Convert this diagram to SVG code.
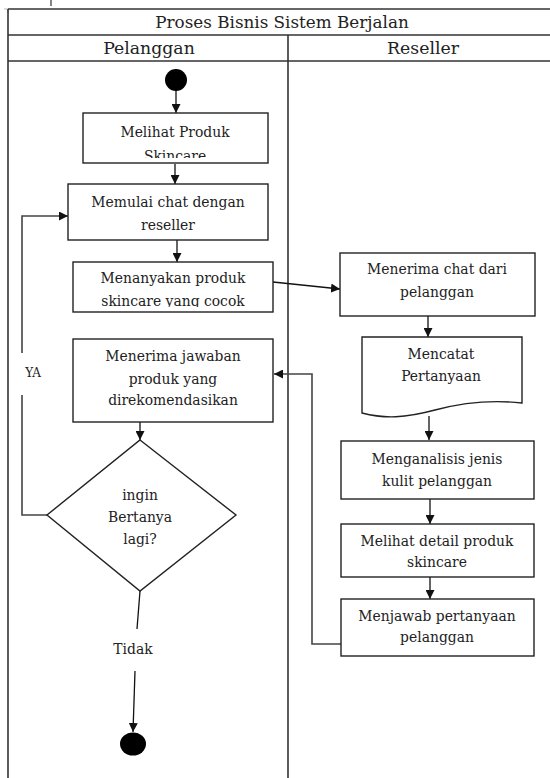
<svg xmlns="http://www.w3.org/2000/svg" width="550" height="778" viewBox="0 0 550 778">
<style>
text{font-family:"DejaVu Serif","Liberation Serif",serif;fill:#222;text-anchor:middle}
.t{font-size:13.9px}
.h{font-size:16.8px}
.hh{font-size:17.3px}
.box{fill:#fff;stroke:#222;stroke-width:1.4}
.grid{stroke:#333;stroke-width:1.6;fill:none}
.ln{stroke:#111;stroke-width:1.3;fill:none}
.fb{stroke:#444;stroke-width:1.6;fill:none}
</style>
<defs>
<marker id="ah" viewBox="0 0 10 10" refX="10" refY="5" markerWidth="9" markerHeight="9" markerUnits="userSpaceOnUse" orient="auto">
<path d="M0,0 L10,5 L0,10 Z" fill="#111"/>
</marker>
<clipPath id="c1"><rect x="83" y="113" width="185" height="45"/></clipPath>
<clipPath id="c3"><rect x="73" y="262" width="200" height="45"/></clipPath>
</defs>
<rect width="550" height="778" fill="#fff"/>
<g id="table">
<line class="grid" x1="51" y1="0" x2="51" y2="6" style="stroke-width:1.2"/>
<path d="M4,9 H8 V13" stroke="#bbb" stroke-width="1" fill="none"/>
<line class="grid" x1="8" y1="9" x2="550" y2="9"/>
<line class="grid" x1="8" y1="35" x2="550" y2="35"/>
<line class="grid" x1="8" y1="61" x2="550" y2="61"/>
<line class="grid" x1="8" y1="9" x2="8" y2="778"/>
<line class="grid" x1="288" y1="35" x2="288" y2="778"/>
<text class="h" x="282" y="28">Proses Bisnis Sistem Berjalan</text>
<text class="hh" x="149" y="54">Pelanggan</text>
<text class="hh" x="423" y="54">Reseller</text>
</g>
<g id="connectors">
<line class="ln" x1="176" y1="90" x2="176" y2="113" marker-end="url(#ah)"/>
<line class="ln" x1="175" y1="164" x2="175" y2="184" marker-end="url(#ah)"/>
<line class="ln" x1="177" y1="240" x2="177" y2="262" marker-end="url(#ah)"/>
<line class="ln" x1="273" y1="282" x2="340" y2="289" marker-end="url(#ah)"/>
<line class="ln" x1="428" y1="316" x2="428" y2="337" marker-end="url(#ah)"/>
<line class="ln" x1="429" y1="416" x2="429" y2="440" marker-end="url(#ah)"/>
<line class="ln" x1="430" y1="499" x2="430" y2="524" marker-end="url(#ah)"/>
<line class="ln" x1="430" y1="577" x2="430" y2="599" marker-end="url(#ah)"/>
<path class="fb" d="M341,644 H312 V374 H274" marker-end="url(#ah)"/>
<line class="ln" x1="140" y1="422" x2="140" y2="440" marker-end="url(#ah)"/>
<path class="fb" d="M47,515 H22 V395"/>
<path class="fb" d="M22,353 V216 H68" marker-end="url(#ah)"/>
<text class="t" x="33" y="377" style="font-size:12px">YA</text>
<line class="ln" x1="140" y1="591" x2="137" y2="629"/>
<text class="t" x="133" y="654">Tidak</text>
<line class="ln" x1="135" y1="671" x2="133" y2="732" marker-end="url(#ah)"/>
</g>
<g id="start"><ellipse cx="176" cy="80" rx="11" ry="11" fill="#000"/></g>
<g id="end"><ellipse cx="133" cy="744" rx="13" ry="11.5" fill="#000"/></g>
<g id="n1">
<rect class="box" x="83" y="113" width="185" height="50"/>
<g clip-path="url(#c1)">
<text class="t" x="175" y="137">Melihat Produk</text>
<text class="t" x="175" y="161">Skincare</text>
</g>
</g>
<g id="n2">
<rect class="box" x="68" y="184" width="200" height="56"/>
<text class="t" x="168" y="207">Memulai chat dengan</text>
<text class="t" x="168" y="230">reseller</text>
</g>
<g id="n3">
<rect class="box" x="73" y="262" width="200" height="50"/>
<g clip-path="url(#c3)">
<text class="t" x="173" y="283">Menanyakan produk</text>
<text class="t" x="173" y="306">skincare yang cocok</text>
</g>
</g>
<g id="n4">
<rect class="box" x="73" y="339" width="200" height="83"/>
<text class="t" x="173" y="361">Menerima jawaban</text>
<text class="t" x="173" y="384">produk yang</text>
<text class="t" x="173" y="405">direkomendasikan</text>
</g>
<g id="d1">
<polygon class="box" points="140,440 236,515 140,591 47,515"/>
<text class="t" x="140" y="500">ingin</text>
<text class="t" x="140" y="522">Bertanya</text>
<text class="t" x="140" y="544">lagi?</text>
</g>
<g id="r1">
<rect class="box" x="340" y="253" width="195" height="63"/>
<text class="t" x="437" y="274">Menerima chat dari</text>
<text class="t" x="437" y="297">pelanggan</text>
</g>
<g id="r2">
<path class="box" d="M362,337 H522 V403 C495,400 465,402 435,410 C405,418 385,419 362,413 Z"/>
<text class="t" x="441" y="359">Mencatat</text>
<text class="t" x="441" y="381">Pertanyaan</text>
</g>
<g id="r3">
<rect class="box" x="341" y="441" width="193" height="58"/>
<text class="t" x="437" y="464">Menganalisis jenis</text>
<text class="t" x="437" y="486">kulit pelanggan</text>
</g>
<g id="r4">
<rect class="box" x="341" y="524" width="193" height="53"/>
<text class="t" x="437" y="546">Melihat detail produk</text>
<text class="t" x="437" y="567">skincare</text>
</g>
<g id="r5">
<rect class="box" x="341" y="599" width="193" height="57"/>
<text class="t" x="437" y="621">Menjawab pertanyaan</text>
<text class="t" x="437" y="642">pelanggan</text>
</g>
</svg>
